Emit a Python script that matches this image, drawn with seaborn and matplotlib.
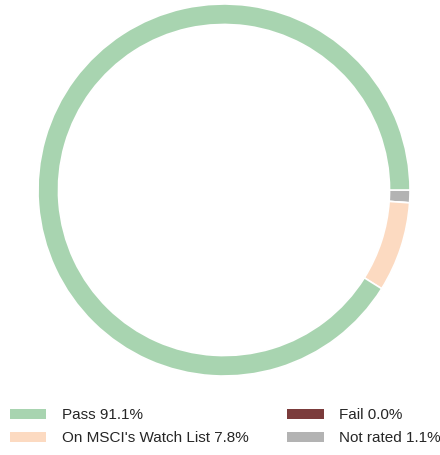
import matplotlib
matplotlib.use('agg')
import matplotlib.pyplot as plt
from matplotlib.patches import Patch
import seaborn as sns

sns.set_theme(style="white")
plt.rcParams['font.family'] = ['Liberation Sans', 'DejaVu Sans']

# clockwise from 3 o'clock
labels = ["Not rated", "Fail", "On MSCI's Watch List", "Pass"]
values = [1.1, 0.0, 7.8, 91.1]
colors = ["#b3b3b3", "#7b3b3b", "#fcdac1", "#a8d4b0"]

legend_order = ["Pass", "On MSCI's Watch List", "Fail", "Not rated"]

fig = plt.figure(figsize=(4.4, 4.55), dpi=100)
ax = fig.add_axes([38 / 440, 1 - 376 / 455, 372 / 440, 372 / 455])
ax.pie(values, colors=colors, startangle=0, counterclock=False, radius=1.0,
       wedgeprops=dict(width=0.11, edgecolor="white", linewidth=1.2))
ax.set_xlim(-1.0, 1.0)
ax.set_ylim(-1.0, 1.0)
ax.set_aspect("equal")
ax.axis("off")

handles = []
for name in legend_order:
    i = labels.index(name)
    handles.append(Patch(facecolor=colors[i], edgecolor="none",
                         label=f"{name} {values[i]:.1f}%"))

fig.legend(handles=handles, ncol=2, loc="lower left",
           bbox_to_anchor=(0.0, 0.0), frameon=False, fontsize=10.95,
           handlelength=2.4, handleheight=0.65, handletextpad=1.0,
           columnspacing=2.55, labelspacing=0.6, borderaxespad=0.25,
           borderpad=0.4)

fig.savefig("out.png", dpi=100)
